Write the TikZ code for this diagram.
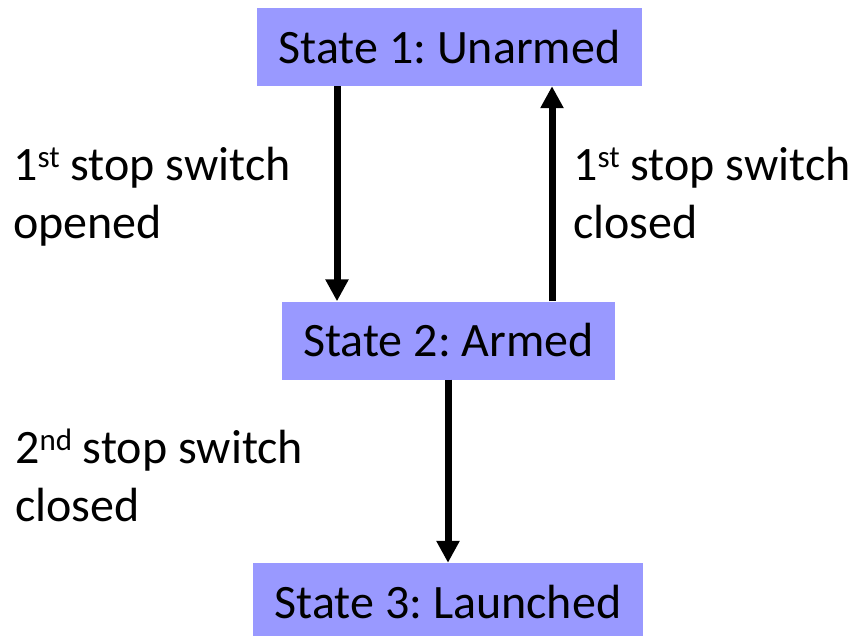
\documentclass[tikz,border=0pt]{standalone}
\usepackage{fontspec}
\setmainfont{Carlito}
\usetikzlibrary{arrows.meta}
\definecolor{boxblue}{HTML}{9999FF}
\newcommand{\supr}[1]{\raisebox{13pt}{\fontsize{31}{31}\selectfont #1}}
\frenchspacing
\begin{document}
\begin{tikzpicture}[x=1pt,y=-1pt,
  statebox/.style={fill=boxblue, draw=none, inner sep=0pt, minimum height=78pt,
    font=\fontsize{48}{58}\selectfont},
  lbl/.style={inner sep=0pt, align=left, anchor=base west, font=\fontsize{48}{58}\selectfont},
  arr/.style={line width=7pt, -{Triangle[length=22pt,width=22pt]}}]
\useasboundingbox (0,0) rectangle (859,635);
\node[statebox, minimum width=385pt] (s1) at (449.5,47) {State 1: Unarmed};
\node[statebox, minimum width=333pt] (s2) at (448.5,340.5) {State 2: Armed};
\node[statebox, minimum width=390pt] (s3) at (448,602) {State 3: Launched};
\coordinate (xl) at (337,0);
\coordinate (xr) at (552,0);
\coordinate (xm) at (448,0);
\draw[arr] (s1.south -| xl) -- (s2.north -| xl);
\draw[arr] (s2.north -| xr) -- (s1.south -| xr);
\draw[arr] (s2.south -| xm) -- (s3.north -| xm);
\node[lbl] (l1) at (13,238) {1\supr{st} stop switch\\opened};
\node[lbl] (l2) at (573,238) {1\supr{st} stop switch\\closed};
\node[lbl] (l3) at (15,521) {2\supr{nd} stop switch\\closed};
\end{tikzpicture}
\end{document}
